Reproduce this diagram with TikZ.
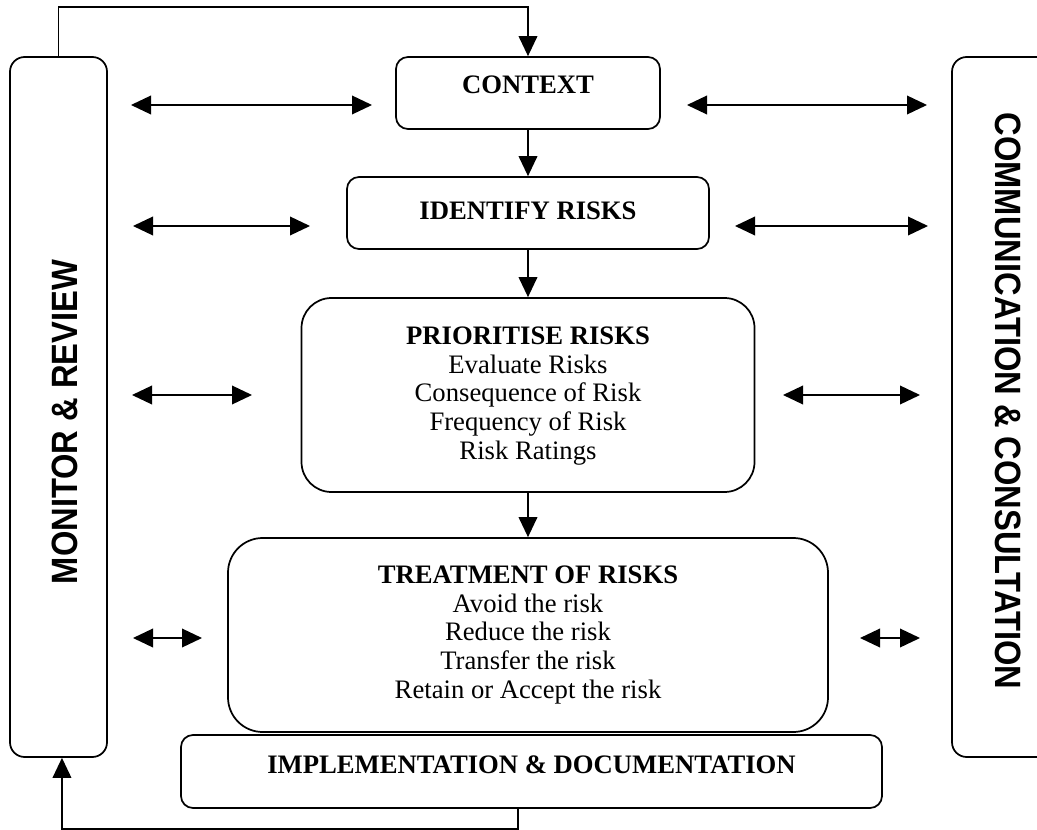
\documentclass[tikz,border=0pt]{standalone}
\usepackage{fontspec}
\setmainfont{Liberation Serif}
\newfontfamily\sidefont{Liberation Sans}
\usetikzlibrary{arrows.meta}
\begin{document}
\begin{tikzpicture}[x=0.75pt,y=-0.75pt,
  box/.style={draw, line width=1.3pt, rounded corners=#1, inner sep=0pt},
  box/.default=9pt,
  ttl/.style={font=\fontsize{20}{21.6}\selectfont\bfseries, inner sep=0pt},
  body/.style={font=\fontsize{20}{21.6}\selectfont, align=center, inner sep=0pt},
  side/.style={font=\fontsize{24.5}{28}\selectfont\sidefont\bfseries, inner sep=0pt},
  arr/.style={line width=1.1pt, -{Triangle[length=15pt,width=14pt]}},
  biarr/.style={line width=1.1pt, {Triangle[length=15pt,width=14pt]}-{Triangle[length=15pt,width=14pt]}}
]
\useasboundingbox (0,0) rectangle (1037,830);
\clip (0,0) rectangle (1037,830);

% side boxes
\node[box=11pt, minimum width=72.75pt, minimum height=525pt] (mon) at (58.5,407) {};
\node[box=11pt, minimum width=84pt, minimum height=525pt] (com) at (1008,407) {};
\node[side, rotate=90] (monT) at (65,422) {\scalebox{1}[1.12]{MONITOR \& REVIEW}};
\node[side, rotate=-90] (comT) at (1008,401) {\scalebox{1}[1.12]{COMMUNICATION \& CONSULTATION}};

% central boxes
\node[box, minimum width=198pt, minimum height=54pt] (ctx) at (528,93) {};
\node[ttl] (ctxT) at (528,85) {CONTEXT};
\node[box, minimum width=271.5pt, minimum height=54pt] (idf) at (528,213) {};
\node[ttl] (idfT) at (528,211) {IDENTIFY RISKS};
\node[box=22.5pt, minimum width=339.75pt, minimum height=145.5pt] (pri) at (528,395) {};
\node[body] (priT) at (528,396) {\textbf{PRIORITISE RISKS}\\Evaluate Risks\\Consequence of Risk\\Frequency of Risk\\Risk Ratings};
\node[box=26pt, minimum width=450pt, minimum height=145.5pt] (trt) at (528,635) {};
\node[body] (trtT) at (528,635) {\textbf{TREATMENT OF RISKS}\\Avoid the risk\\Reduce the risk\\Transfer the risk\\Retain or Accept the risk};
\node[box, minimum width=525.75pt, minimum height=54.75pt] (imp) at (531.5,771.5) {};
\node[ttl] (impT) at (531.5,765) {IMPLEMENTATION \& DOCUMENTATION};

% flow arrows
\draw[arr] (ctx.south) -- (idf.north);
\draw[arr] (idf.south) -- (pri.north);
\draw[arr] (pri.south) -- (trt.north);

% feedback loops
\draw[arr] (mon.north) -- ++(0,-49) -| (ctx.north);
\draw[arr] ([xshift=-10pt]imp.south) -- ++(0,20) -| ([xshift=2.6pt]mon.south);

% two-headed arrows
\coordinate (a1) at (131,105); \coordinate (b1) at (372,105);
\coordinate (c1) at (687,105); \coordinate (d1) at (927,105);
\coordinate (a2) at (133,226); \coordinate (b2) at (310,226);
\coordinate (c2) at (735,226); \coordinate (d2) at (928,226);
\coordinate (a3) at (132,395); \coordinate (b3) at (252,395);
\coordinate (c3) at (783,395); \coordinate (d3) at (920,395);
\coordinate (a4) at (133,638); \coordinate (b4) at (202,638);
\coordinate (c4) at (860,638); \coordinate (d4) at (920,638);
\foreach \p/\q in {a1/b1,c1/d1,a2/b2,c2/d2,a3/b3,c3/d3,a4/b4,c4/d4}
  \draw[biarr] (\p) -- (\q);
\end{tikzpicture}
\end{document}
